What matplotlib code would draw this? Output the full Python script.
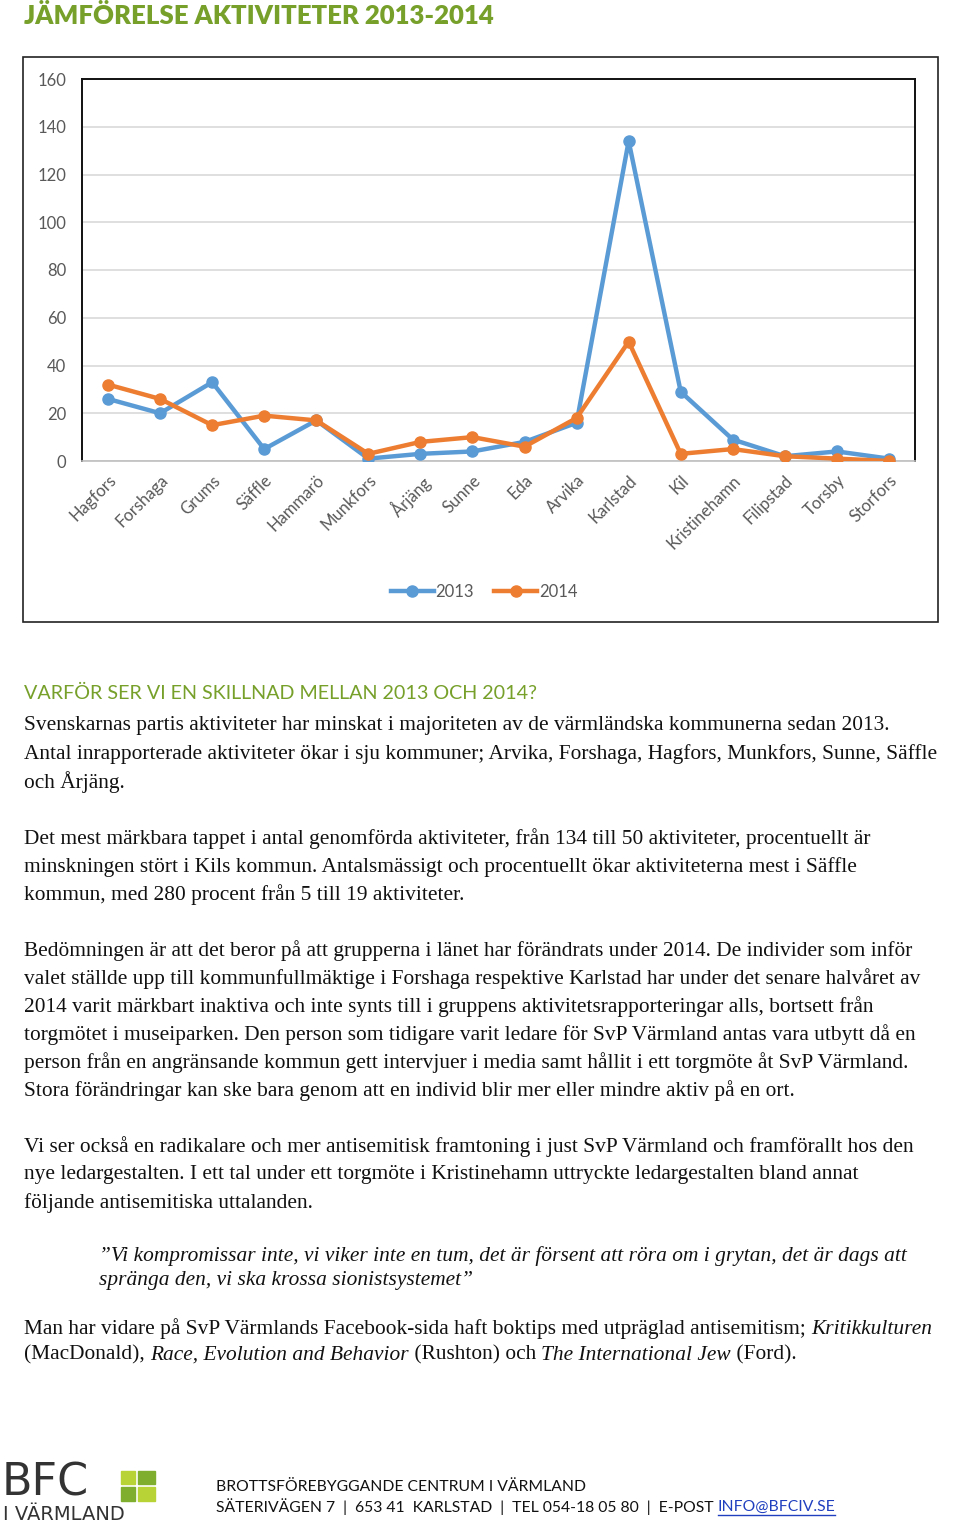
import matplotlib.pyplot as plt
from matplotlib.patches import Rectangle
from matplotlib.lines import Line2D

kommuner = ["Hagfors", "Forshaga", "Grums", "Säffle", "Hammarö", "Munkfors", "Årjäng", "Sunne",
            "Eda", "Arvika", "Karlstad", "Kil", "Kristinehamn", "Filipstad", "Torsby", "Storfors"]
akt_2013 = [26, 20, 33, 5, 17, 1, 3, 4, 8, 16, 134, 29, 9, 2, 4, 1]
akt_2014 = [32, 26, 15, 19, 17, 3, 8, 10, 6, 18, 50, 3, 5, 2, 1, 0]
y_ticks = [0, 20, 40, 60, 80, 100, 120, 140, 160]

W, H = 960, 1525
BLUE = "#5B9BD5"
ORANGE = "#ED7D31"
GREEN = "#76A02A"
GREY = "#595959"
SERIF = ["Liberation Serif", "DejaVu Serif"]
SANS = ["Lato", "DejaVu Sans"]


def fx(x):
    return x / W


def fy(y):
    return 1 - y / H


fig = plt.figure(figsize=(W / 100, H / 100), dpi=100)
fig.patch.set_facecolor("white")
renderer = fig.canvas.get_renderer()

# title
fig.text(fx(24), fy(16), "JÄMFÖRELSE AKTIVITETER 2013-2014", color=GREEN, fontsize=18.5,
         fontweight="heavy", family=SANS, va="center", ha="left")

# chart frame
fig.patches.append(Rectangle((fx(23), fy(622)), fx(938) - fx(23), fy(57) - fy(622),
                             transform=fig.transFigure, fill=False, edgecolor="#222222", lw=1.2))

ax = fig.add_axes([fx(82), fy(461), fx(915) - fx(82), fy(79) - fy(461)])
x = list(range(len(kommuner)))
ax.plot(x, akt_2013, color=BLUE, lw=3.2, marker="o", ms=8, label="2013", zorder=3)
ax.plot(x, akt_2014, color=ORANGE, lw=3.2, marker="o", ms=8, label="2014", zorder=4)
ax.set_xlim(-0.5, len(kommuner) - 0.5)
ax.set_ylim(0, 160)
ax.set_yticks(y_ticks)
ax.set_xticks(x)
ax.set_xticklabels(kommuner, rotation=45, ha="right", rotation_mode="anchor",
                   fontsize=12, color=GREY, family=SANS)
ax.tick_params(axis="both", length=0, colors=GREY)
ax.tick_params(axis="y", pad=11.5, labelsize=12)
ax.tick_params(axis="x", pad=8)
for lab in ax.get_yticklabels():
    lab.set_family(SANS)
ax.grid(axis="y", color="#D9D9D9", lw=1.2)
ax.set_axisbelow(True)
for s in ["left", "top", "right"]:
    ax.spines[s].set_color("#111111")
    ax.spines[s].set_linewidth(1.4)
ax.spines["bottom"].set_color("#BFBFBF")
ax.spines["bottom"].set_linewidth(1.2)

fig.legend(loc="center", bbox_to_anchor=(fx(484), fy(592)), ncol=2, frameon=False,
           prop={"family": SANS, "size": 12}, labelcolor=GREY, handlelength=2.6,
           columnspacing=1.2, handletextpad=0.1)

# text section
fig.text(fx(24), fy(693), "VARFÖR SER VI EN SKILLNAD MELLAN 2013 OCH 2014?", color=GREEN,
         fontsize=14.2, family=SANS, va="center", ha="left")

BODY = 15.4
ITAL = 15.4
body_lines = [
    (726, "Svenskarnas partis aktiviteter har minskat i majoriteten av de värmländska kommunerna sedan 2013."),
    (754, "Antal inrapporterade aktiviteter ökar i sju kommuner; Arvika, Forshaga, Hagfors, Munkfors, Sunne, Säffle"),
    (782, "och Årjäng."),
    (839, "Det mest märkbara tappet i antal genomförda aktiviteter, från 134 till 50 aktiviteter, procentuellt är"),
    (867, "minskningen stört i Kils kommun. Antalsmässigt och procentuellt ökar aktiviteterna mest i Säffle"),
    (895, "kommun, med 280 procent från 5 till 19 aktiviteter."),
    (951, "Bedömningen är att det beror på att grupperna i länet har förändrats under 2014. De individer som inför"),
    (979, "valet ställde upp till kommunfullmäktige i Forshaga respektive Karlstad har under det senare halvåret av"),
    (1007, "2014 varit märkbart inaktiva och inte synts till i gruppens aktivitetsrapporteringar alls, bortsett från"),
    (1035, "torgmötet i museiparken. Den person som tidigare varit ledare för SvP Värmland antas vara utbytt då en"),
    (1063, "person från en angränsande kommun gett intervjuer i media samt hållit i ett torgmöte åt SvP Värmland."),
    (1091, "Stora förändringar kan ske bara genom att en individ blir mer eller mindre aktiv på en ort."),
    (1147, "Vi ser också en radikalare och mer antisemitisk framtoning i just SvP Värmland och framförallt hos den"),
    (1175, "nye ledargestalten. I ett tal under ett torgmöte i Kristinehamn uttryckte ledargestalten bland annat"),
    (1203, "följande antisemitiska uttalanden."),
]
for yy, t in body_lines:
    fig.text(fx(24), fy(yy), t, fontsize=BODY, family=SERIF, color="#111111", va="center", ha="left")

quote = [
    (1256, "\u201dVi kompromissar inte, vi viker inte en tum, det är försent att röra om i grytan, det är dags att"),
    (1281, "spränga den, vi ska krossa sionistsystemet\u201d"),
]
for yy, t in quote:
    fig.text(fx(99), fy(yy), t, fontsize=ITAL, family=SERIF, style="italic", color="#111111",
             va="center", ha="left")


def run_line(y, parts):
    xpos = fx(24)
    for txt, it in parts:
        t = fig.text(xpos, fy(y), txt, fontsize=BODY, family=SERIF, color="#111111",
                     style="italic" if it else "normal", va="center", ha="left")
        bb = t.get_window_extent(renderer=renderer)
        xpos += bb.width / W


run_line(1329, [("Man har vidare på SvP Värmlands Facebook-sida haft boktips med utpräglad antisemitism; ", False),
                ("Kritikkulturen", True)])
run_line(1355, [("(MacDonald), ", False), ("Race, Evolution and Behavior", True), (" (Rushton) och ", False),
                ("The International Jew", True), (" (Ford).", False)])

# footer logo
fig.text(fx(2), fy(1483), "BFC", fontsize=32, family=["DejaVu Sans"], color="#333333",
         va="center", ha="left")
fig.text(fx(3), fy(1515), "I VÄRMLAND", fontsize=14, family=["DejaVu Sans"], color="#333333",
         va="center", ha="left")
sq = [(121, 1471, 14, 13, "#B7D335"), (138, 1471, 17, 13, "#7FAE2E"),
      (121, 1487, 14, 14, "#7FAE2E"), (138, 1487, 17, 14, "#B7D335")]
for sx, sy, sw, sh, c in sq:
    fig.patches.append(Rectangle((fx(sx), fy(sy + sh)), sw / W, sh / H, transform=fig.transFigure,
                                 color=c))

FOOT = 11.3
fig.text(fx(216), fy(1487), "BROTTSFÖREBYGGANDE CENTRUM I VÄRMLAND", fontsize=FOOT, family=SANS,
         color="#111111", va="center", ha="left")
addr = fig.text(fx(216), fy(1507), "SÄTERIVÄGEN 7  |  653 41  KARLSTAD  |  TEL 054-18 05 80  |  E-POST ",
                fontsize=FOOT, family=SANS, color="#111111", va="center", ha="left")
a_bb = addr.get_window_extent(renderer=renderer)
link = fig.text(a_bb.x1 / W, fy(1507), "INFO@BFCIV.SE", fontsize=FOOT, family=SANS, color="#1F3FBF",
                va="center", ha="left")
l_bb = link.get_window_extent(renderer=renderer)
fig.lines.append(Line2D([l_bb.x0 / W, l_bb.x1 / W], [fy(1515), fy(1515)], transform=fig.transFigure,
                        color="#1F3FBF", lw=1))

fig.savefig("out.png", dpi=100, facecolor="white")
